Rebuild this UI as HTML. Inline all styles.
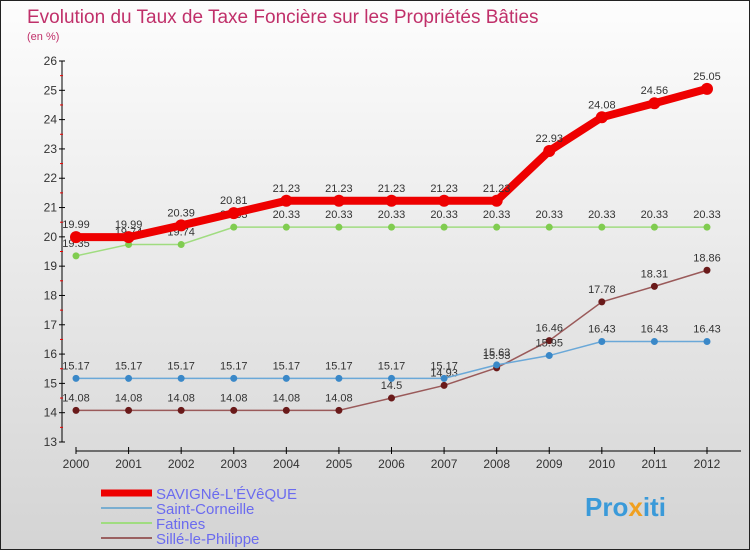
<!DOCTYPE html>
<html><head><meta charset="utf-8"><style>
body{margin:0}
#c{width:750px;height:550px;position:relative;box-sizing:border-box;border:1px solid #222;background:linear-gradient(#fdfdfd,#d4d4d4);font-family:"Liberation Sans",sans-serif;overflow:hidden}
</style></head><body>
<div id="c">
<svg id="s" width="750" height="550" style="position:absolute;left:0;top:0">
<text x="26" y="22" font-size="19" fill="#c0306a">Evolution du Taux de Taxe Foncière sur les Propriétés Bâties</text>
<text x="26" y="39" font-size="11" fill="#c0306a">(en %)</text>
<text x="584" y="515" font-size="26" font-weight="bold" fill="#3a9ad9">Pro<tspan fill="#f0a020">x</tspan>iti</text>
</svg>
</div>
<script>
const years=[2000,2001,2002,2003,2004,2005,2006,2007,2008,2009,2010,2011,2012];
const savigne=[19.99,19.99,20.39,20.81,21.23,21.23,21.23,21.23,21.23,22.93,24.08,24.56,25.05];
const corneille=[15.17,15.17,15.17,15.17,15.17,15.17,15.17,15.17,15.63,15.95,16.43,16.43,16.43];
const fatines=[19.35,19.74,19.74,20.33,20.33,20.33,20.33,20.33,20.33,20.33,20.33,20.33,20.33];
const sille=[14.08,14.08,14.08,14.08,14.08,14.08,14.5,14.93,15.53,16.46,17.78,18.31,18.86];
const yTicks=[13,14,15,16,17,18,19,20,21,22,23,24,25,26];
const seriesNames=["SAVIGNé-L'ÉVêQUE","Saint-Corneille","Fatines","Sillé-le-Philippe"];
const NS="http://www.w3.org/2000/svg",svg=document.getElementById('s');
const X=i=>75+i*(706-75)/(years.length-1);
const Y=v=>441-(v-13)*(441-60)/13;
function el(t,a,p){const e=document.createElementNS(NS,t);for(const k in a)e.setAttribute(k,a[k]);(p||svg).appendChild(e);return e;}
// axes
let ax=el('g',{});


el('line',{x1:61,y1:60,x2:61,y2:441,stroke:'#000'},ax);
yTicks.forEach(v=>{el('line',{x1:58,y1:Y(v),x2:64,y2:Y(v),stroke:'#000'},ax);
 if(v<26)el('line',{x1:59,y1:Y(v+0.5),x2:62,y2:Y(v+0.5),stroke:'#e00'},ax);
 const t=el('text',{x:56,y:Y(v)+4,'font-size':12,'text-anchor':'end',fill:'#333'},ax);t.textContent=v;
 
 });
let xa=el('g',{});


el('line',{x1:75,y1:450,x2:740,y2:450,stroke:'#000'},xa);
years.forEach((y,i)=>{el('line',{x1:X(i),y1:446,x2:X(i),y2:453,stroke:'#000'},xa);
 const t=el('text',{x:X(i),y:467,'font-size':12,'text-anchor':'middle',fill:'#333'},xa);t.textContent=y;
 
 });
function series(d,col,w,r,dot,name){
 const g=el('g',{});
 
 
 el('polyline',{points:d.map((v,i)=>X(i)+','+Y(v)).join(' '),fill:'none',stroke:col,'stroke-width':w},g);
 d.forEach((v,i)=>{const c=el('circle',{cx:X(i),cy:Y(v),r:r,fill:dot},g);
  
  
  const t=el('text',{x:X(i),y:Y(v)-9,'font-size':11,'text-anchor':'middle',fill:'#333'},g);
  t.textContent=v;
  
  });
}
series(sille,'#9a5a5a',1.5,3.5,'#6a1a1a','series-sille');
series(corneille,'#6aa8d8',1.5,3.5,'#3a88c8','series-saint-corneille');
series(fatines,'#a0dc80',1.5,3.5,'#80cc50','series-fatines');
series(savigne,'#ee0000',8,6,'#ee0000','series-savigne');
const lc=['#ee0000','#7aaed0','#a0dc80','#9a6060'],lw=[7,2,2,2];
seriesNames.forEach((n,i)=>{const g=el('g',{});
 
 
 const y=492+i*15;
 el('line',{x1:100,y1:y,x2:151,y2:y,stroke:lc[i],'stroke-width':lw[i]},g);
 const t=el('text',{x:155,y:y+6,'font-size':15,fill:'#6b6bef'},g);t.textContent=n;});
</script>
</body></html>
